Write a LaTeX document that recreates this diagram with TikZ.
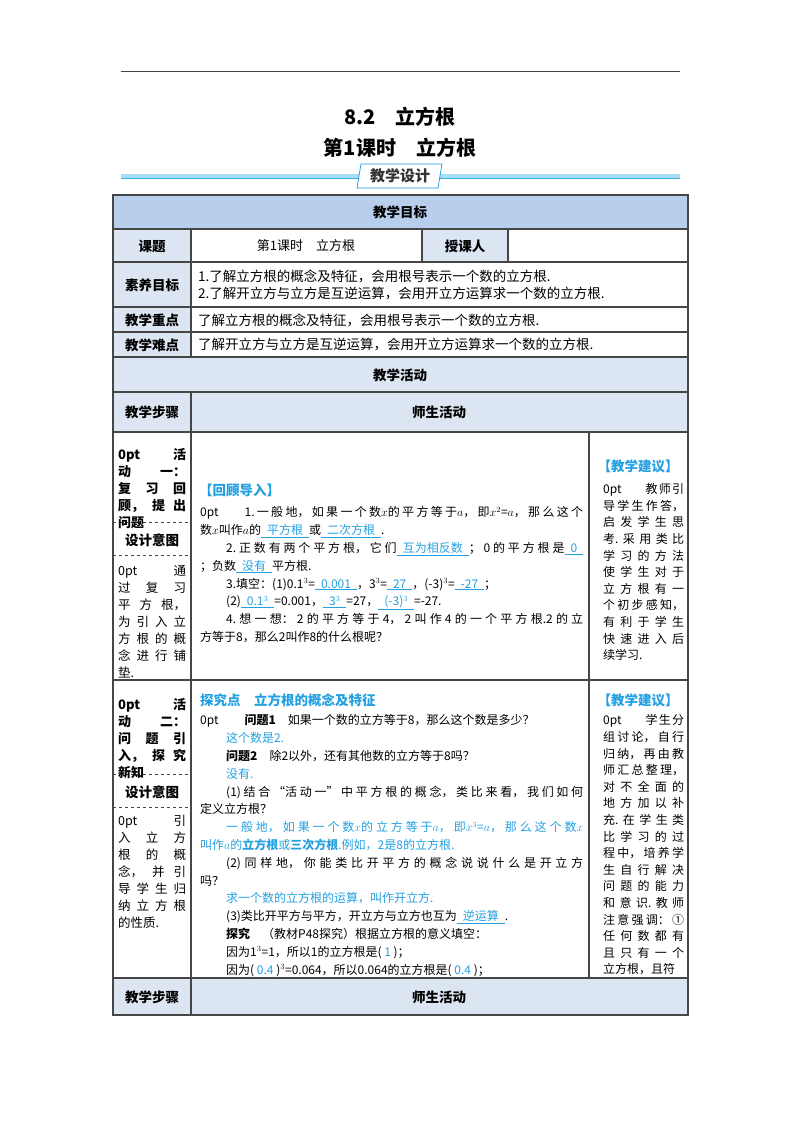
\documentclass[tikz,border=0pt]{standalone}
\usepackage{fontspec}
\setmainfont{Noto Sans CJK SC}
\XeTeXlinebreaklocale "zh"
\XeTeXlinebreakskip=0pt plus 4pt
\definecolor{cb}{RGB}{35,160,225}
\definecolor{hdr}{RGB}{183,207,236}
\definecolor{labc}{RGB}{220,230,242}
\definecolor{grid}{RGB}{70,70,70}
\newcommand{\fl}[1]{\textcolor{cb}{\underline{\hspace{0.5em}#1\hspace{0.5em}}}}
\begin{document}
\begin{tikzpicture}[x=1pt,y=-1pt,
  lab/.style={inner sep=0,font=\fontsize{13.5}{16}\selectfont\bfseries},
  cell/.style={inner sep=0,anchor=west,font=\fontsize{13.5}{16}\selectfont},
  para/.style={anchor=north west,inner sep=0,text width=#1,align=justify,
     font=\fontsize{12}{17.8}\selectfont\parindent=0pt},
  side/.style={anchor=north west,inner sep=0,text width=#1,align=justify,
     font=\fontsize{12}{16.6}\selectfont\parindent=0pt},
  lft/.style={anchor=north west,inner sep=0,text width=68,align=justify,
     font=\fontsize{12.5}{17}\selectfont\parindent=0pt}]
\useasboundingbox (0,0) rectangle (800,1132);
% top rule and titles
\coordinate (tl) at (121,72); \coordinate (tr) at (680,72);
\draw[grid,line width=1] (tl) -- (tr);
\node[lab,font=\fontsize{20}{24}\selectfont\bfseries] (t1) at (400,117) {8.2\quad 立方根};
\node[lab,font=\fontsize{20}{24}\selectfont\bfseries] (t2) at (400,148) {第1课时\quad 立方根};
\fill[RGB/.code={},color={rgb,255:red,166;green,224;blue,247}] (121,173.5) rectangle (680,177.5);
\draw[color={rgb,255:red,63;green,176;blue,224},line width=0.8] (121,178) -- (680,178);
\draw[fill=white,draw=cb,line width=0.8] (361,164) -- (442,164) -- (438,188) -- (357,188) -- cycle;
\node[lab,font=\fontsize{15}{18}\selectfont\bfseries,text=black!80] (jx) at (400,176) {教学设计};
% fills
\fill[hdr] (113,195) rectangle (688,229);
\fill[labc] (113,229) rectangle (191,357);
\fill[labc] (422,229) rectangle (508,262);
\fill[labc] (113,357) rectangle (688,432);
\fill[labc] (113,978) rectangle (688,1015);
% grid
\begin{scope}[grid,line width=1.1]
\draw[line width=1.4] (113,195) rectangle (688,1015);
\foreach \yy in {229,262,307,332,357,392,432,680,978} \draw (113,\yy) -- (688,\yy);
\draw (191,229) -- (191,357);
\draw (191,392) -- (191,1015);
\draw (422,229) -- (422,262);
\draw (508,229) -- (508,262);
\draw (589,432) -- (589,978);
\foreach \yy in {522,555,774,807} \draw[dashed,line width=0.9] (113,\yy) -- (191,\yy);
\end{scope}
% header texts
\node[lab] (h1) at (400,212) {教学目标};
\node[lab] (h2) at (152,246) {课题};
\node[inner sep=0,font=\fontsize{13}{16}\selectfont] (h3) at (306,246) {第1课时\quad 立方根};
\node[lab] (h4) at (465,246) {授课人};
\node[lab] (h5) at (152,285) {素养目标};
\node[cell] (h6) at (198,276) {1.了解立方根的概念及特征，会用根号表示一个数的立方根.};
\node[cell] (h7) at (198,294) {2.了解开立方与立方是互逆运算，会用开立方运算求一个数的立方根.};
\node[lab] (h8) at (152,320) {教学重点};
\node[cell] (h9) at (198,320) {了解立方根的概念及特征，会用根号表示一个数的立方根.};
\node[lab] (h10) at (152,345) {教学难点};
\node[cell] (h11) at (198,345) {了解开立方与立方是互逆运算，会用开立方运算求一个数的立方根.};
\node[lab] (h12) at (400,375) {教学活动};
\node[lab] (h13) at (152,412) {教学步骤};
\node[lab] (h14) at (439,412) {师生活动};
\node[lab] (h15) at (152,997) {教学步骤};
\node[lab] (h16) at (439,997) {师生活动};
% activity 1
\node[lft,font=\fontsize{13}{17}\selectfont\bfseries\parindent=0pt] (a1) at (118,448)
 {活动一：\linebreak 复习回\linebreak 顾，提出\linebreak 问题};
\node[lab] (a2) at (152,540) {设计意图};
\node[lft] (a3) at (118,565) {通过复习\linebreak 平方根，\linebreak 为引入立\linebreak 方根的概\linebreak 念进行铺\linebreak 垫.};
\node[lab,text=cb,anchor=west] (a4) at (199,490) {【回顾导入】};
\node[para=383] (a5) at (200,506.5) {%
\hspace*{26pt}1.一般地，如果一个数$x$的平方等于$a$，即$x^2$=$a$，那么这个\linebreak
数$x$叫作$a$的\fl{平方根}或\fl{二次方根}.\\
\hspace*{26pt}2.正数有两个平方根，它们\fl{互为相反数}；0的平方根是\fl{0}\linebreak
；负数\fl{没有}平方根.\\
\hspace*{26pt}3.填空：(1)0.1$^3$=\fl{0.001}，3$^3$=\fl{27}，(-3)$^3$=\fl{-27}；\\
\hspace*{26pt}(2)\fl{0.1$^3$}=0.001，\fl{3$^3$}=27，\fl{(-3)$^3$}=-27.\\
\hspace*{26pt}4.想一想：2的平方等于4，2叫作4的一个平方根.2的立\linebreak
方等于8，那么2叫作8的什么根呢？};
\node[lab,text=cb] (a6) at (638,466) {【教学建议】};
\node[side=81] (a7) at (603,483.5) {\hspace*{2em}教师引\linebreak 导学生作答，\linebreak 启发学生思\linebreak 考.采用类比\linebreak 学习的方法\linebreak 使学生对于\linebreak 立方根有一\linebreak 个初步感知，\linebreak 有利于学生\linebreak 快速进入后\linebreak 续学习.};
% activity 2
\node[lft,font=\fontsize{13}{17}\selectfont\bfseries\parindent=0pt] (b1) at (118,698)
 {活动二：\linebreak 问题引\linebreak 入，探究\linebreak 新知};
\node[lab] (b2) at (152,792) {设计意图};
\node[lft] (b3) at (118,815) {引入立方\linebreak 根的概\linebreak 念，并引\linebreak 导学生归\linebreak 纳立方根\linebreak 的性质.};
\node[lab,text=cb,anchor=west] (b4) at (200,700) {探究点\quad 立方根的概念及特征};
\node[para=383] (b5) at (200,714.5) {%
\hspace*{26pt}\textbf{问题1}\quad 如果一个数的立方等于8，那么这个数是多少？\\
\hspace*{26pt}\textcolor{cb}{这个数是2.}\\
\hspace*{26pt}\textbf{问题2}\quad 除2以外，还有其他数的立方等于8吗？\\
\hspace*{26pt}\textcolor{cb}{没有.}\\
\hspace*{26pt}(1)结合“活动一”中平方根的概念，类比来看，我们如何\linebreak
定义立方根？\\
\hspace*{26pt}\textcolor{cb}{一般地，如果一个数$x$的立方等于$a$，即$x^3$=$a$，那么这个数$x$}\linebreak
\textcolor{cb}{叫作$a$的\textbf{立方根}或\textbf{三次方根}.例如，2是8的立方根.}\\
\hspace*{26pt}(2)同样地，你能类比开平方的概念说说什么是开立方\linebreak
吗？\\
\hspace*{26pt}\textcolor{cb}{求一个数的立方根的运算，叫作开立方.}\\
\hspace*{26pt}(3)类比开平方与平方，开立方与立方也互为\fl{逆运算}.\\
\hspace*{26pt}\textbf{探究}\quad（教材P48探究）根据立方根的意义填空：\\
\hspace*{26pt}因为1$^3$=1，所以1的立方根是(\textcolor{cb}{\ 1\ })；\\
\hspace*{26pt}因为(\textcolor{cb}{\ 0.4\ })$^3$=0.064，所以0.064的立方根是(\textcolor{cb}{\ 0.4\ })；};
\node[lab,text=cb] (b6) at (638,700) {【教学建议】};
\node[side=81,font=\fontsize{12}{16.6}\selectfont\parindent=0pt\parfillskip=0pt] (b7) at (603,714.5) {\hspace*{2em}学生分\linebreak 组讨论，自行\linebreak 归纳，再由教\linebreak 师汇总整理，\linebreak 对不全面的\linebreak 地方加以补\linebreak 充.在学生类\linebreak 比学习的过\linebreak 程中，培养学\linebreak 生自行解决\linebreak 问题的能力\linebreak 和意识.教师\linebreak 注意强调：①\linebreak 任何数都有\linebreak 且只有一个\linebreak 立方根，且符};
\end{tikzpicture}
\end{document}
